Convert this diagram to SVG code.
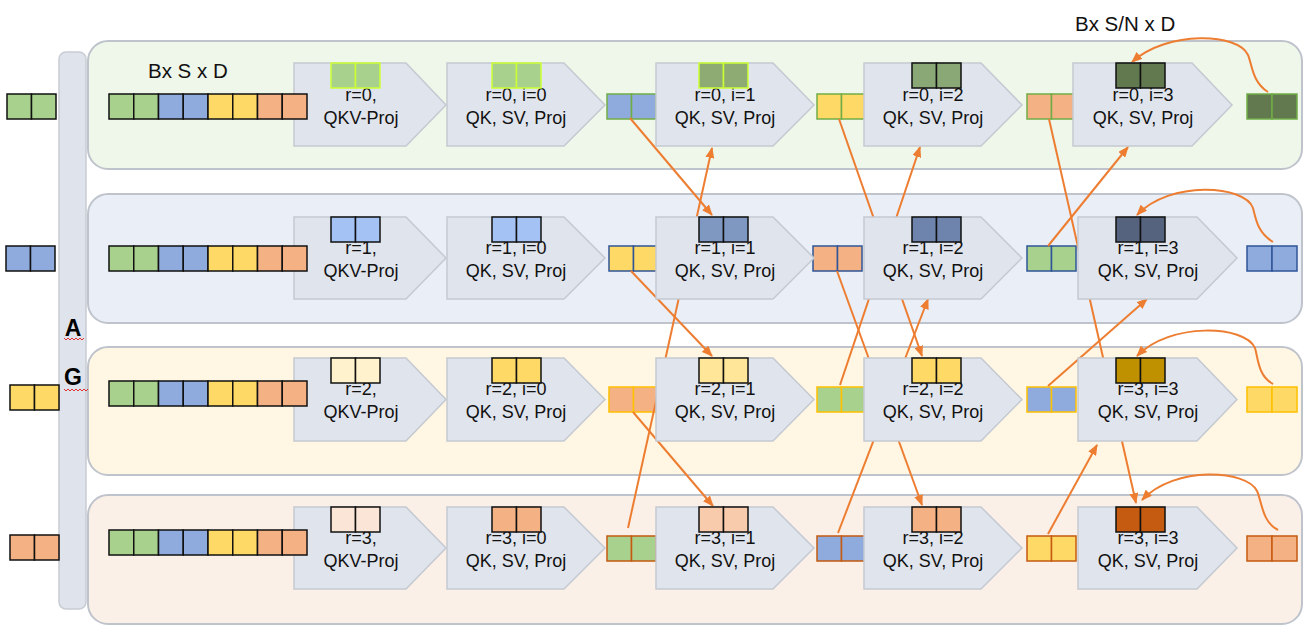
<svg xmlns="http://www.w3.org/2000/svg" width="1314" height="634" viewBox="0 0 1314 634">
<defs>
<style>
.lane{stroke:#bfc4cc;stroke-width:2}
.chev{fill:#e0e4ec;stroke:#c5c9d1;stroke-width:1.5}
.lbl{font-family:"Liberation Sans",Arial,sans-serif;font-size:18px;fill:#111;text-anchor:middle}
.hdr{font-family:"Liberation Sans",Arial,sans-serif;font-size:20.5px;fill:#111}
.ag{font-family:"Liberation Sans",Arial,sans-serif;font-size:23px;font-weight:bold;fill:#000;text-anchor:middle}
.k{stroke:#111;stroke-width:1.5}
.lime{stroke:#ccff33;stroke-width:1.5}
.sg{stroke:#70ad47;stroke-width:1.5}
.sb{stroke:#2f5597;stroke-width:1.5}
.sy{stroke:#ffc000;stroke-width:1.5}
.so{stroke:#c55a11;stroke-width:1.5}
.g{fill:#a9d18e}.b{fill:#8faadc}.y{fill:#ffd966}.o{fill:#f4b183}
.conn{stroke:#ed7d31;stroke-width:2;fill:none;marker-end:url(#ah)}
.wave{stroke:#e03030;stroke-width:1;fill:none}
</style>
<marker id="ah" markerUnits="userSpaceOnUse" markerWidth="11" markerHeight="9" refX="10" refY="4.5" orient="auto">
<path d="M0,0 L11,4.5 L0,9 z" fill="#ed7d31"/>
</marker>
</defs>
<rect width="1314" height="634" fill="#ffffff"/>

<g id="lane0"><rect class="lane" x="88" y="41" width="1214" height="128" rx="20" fill="#eff6ea"/></g>
<g id="lane1"><rect class="lane" x="88" y="194" width="1214" height="129" rx="20" fill="#eaeff7"/></g>
<g id="lane2"><rect class="lane" x="88" y="347" width="1214" height="128" rx="20" fill="#fff7e3"/></g>
<g id="lane3"><rect class="lane" x="88" y="495" width="1214" height="129" rx="20" fill="#fbf0e8"/></g>

<g id="agbar">
<rect x="59" y="52" width="27" height="557" rx="7" fill="#dfe3eb" stroke="#c8ccd4" stroke-width="1.5"/>
<text class="ag" x="73" y="336">A</text>
<text class="ag" x="73" y="385">G</text>
<path class="wave" d="M64,338 l2,2 l2,-2 l2,2 l2,-2 l2,2 l2,-2 l2,2 l2,-2 l2,2 l2,-2"/>
<path class="wave" d="M64,389 l2,2 l2,-2 l2,2 l2,-2 l2,2 l2,-2 l2,2 l2,-2 l2,2 l2,-2 l2,2 l2,-2"/>
</g>

<g id="in0" class="k"><rect class="g" x="7" y="94" width="24.5" height="25"/><rect class="g" x="31.5" y="94" width="24.5" height="25"/></g>
<g id="in1" class="k"><rect class="b" x="6" y="246" width="24.5" height="25"/><rect class="b" x="30.5" y="246" width="24.5" height="25"/></g>
<g id="in2" class="k"><rect class="y" x="10" y="385" width="24.5" height="25"/><rect class="y" x="34.5" y="385" width="24.5" height="25"/></g>
<g id="in3" class="k"><rect class="o" x="10" y="535" width="24.5" height="25"/><rect class="o" x="34.5" y="535" width="24.5" height="25"/></g>

<g id="hdr0"><text class="hdr" x="148" y="78">Bx S x D</text></g>
<g id="hdr1"><text class="hdr" x="1075" y="31">Bx S/N x D</text></g>

<!-- intermediate buffers -->
<g id="buf0" class="sg">
<rect class="b" x="607" y="94" width="24.5" height="25"/><rect class="b" x="631.5" y="94" width="24.5" height="25"/>
<rect class="y" x="817" y="94" width="24.5" height="25"/><rect class="y" x="841.5" y="94" width="24.5" height="25"/>
<rect class="o" x="1027" y="94" width="24.5" height="25"/><rect class="o" x="1051.5" y="94" width="24.5" height="25"/>
</g>
<g id="buf1" class="sb">
<rect class="y" x="609" y="246" width="24.5" height="25"/><rect class="y" x="633.5" y="246" width="24.5" height="25"/>
<rect class="o" x="813" y="246" width="24.5" height="25"/><rect class="o" x="837.5" y="246" width="24.5" height="25"/>
<rect class="g" x="1027" y="246" width="24.5" height="25"/><rect class="g" x="1051.5" y="246" width="24.5" height="25"/>
</g>
<g id="buf2" class="sy">
<rect class="o" x="609" y="387" width="24.5" height="25"/><rect class="o" x="633.5" y="387" width="24.5" height="25"/>
<rect class="g" x="817" y="387" width="24.5" height="25"/><rect class="g" x="841.5" y="387" width="24.5" height="25"/>
<rect class="b" x="1027" y="387" width="24.5" height="25"/><rect class="b" x="1051.5" y="387" width="24.5" height="25"/>
</g>
<g id="buf3" class="so">
<rect class="g" x="607" y="536" width="24.5" height="25"/><rect class="g" x="631.5" y="536" width="24.5" height="25"/>
<rect class="b" x="817" y="536" width="24.5" height="25"/><rect class="b" x="841.5" y="536" width="24.5" height="25"/>
<rect class="y" x="1027" y="536" width="24.5" height="25"/><rect class="y" x="1051.5" y="536" width="24.5" height="25"/>
</g>

<g id="connectors">
<line class="conn" x1="630" y1="118" x2="712" y2="215"/>
<line class="conn" x1="631" y1="271" x2="712" y2="356"/>
<line class="conn" x1="633" y1="412" x2="713" y2="506"/>
<line class="conn" x1="628" y1="528" x2="712" y2="148"/>
<line class="conn" x1="839" y1="119" x2="922" y2="356"/>
<line class="conn" x1="837" y1="271" x2="922" y2="505"/>
<line class="conn" x1="840" y1="385" x2="920" y2="147"/>
<line class="conn" x1="838" y1="533" x2="928" y2="299"/>
<line class="conn" x1="1049" y1="119" x2="1136" y2="503"/>
<line class="conn" x1="1048" y1="246" x2="1128" y2="147"/>
<line class="conn" x1="1048" y1="386" x2="1147" y2="299"/>
<line class="conn" x1="1048" y1="534" x2="1097" y2="445"/>
<path class="conn" d="M1268,92 C1252,82 1252,64 1248,55 C1238,33 1168,30 1132,62"/>
<path class="conn" d="M1273,242 C1258,233 1256,220 1253,208 C1245,185 1170,180 1137,215"/>
<path class="conn" d="M1273,384 C1258,376 1258,358 1255,348 C1245,325 1170,322 1137,356"/>
<path class="conn" d="M1278,530 C1262,522 1262,502 1257,491 C1247,470 1175,465 1142,500"/>
</g>

<!-- row 0 -->
<g id="r0c0"><polygon class="chev" points="294,63 406,63 446,105 406,146 294,146"/><text class="lbl" x="361" y="101">r=0,</text><text class="lbl" x="361" y="124">QKV-Proj</text><g class="lime"><rect class="g" x="331" y="63" width="24.5" height="25"/><rect class="g" x="355.5" y="63" width="24.5" height="25"/></g></g>
<g id="r0c1"><polygon class="chev" points="447,63 564,63 605,105 564,146 447,146"/><text class="lbl" x="516" y="101">r=0, i=0</text><text class="lbl" x="516" y="124">QK, SV, Proj</text><g class="lime"><rect class="g" x="492" y="63" width="24.5" height="25"/><rect class="g" x="516.5" y="63" width="24.5" height="25"/></g></g>
<g id="r0c2"><polygon class="chev" points="656,63 773,63 814,105 773,146 656,146"/><text class="lbl" x="725" y="101">r=0, i=1</text><text class="lbl" x="725" y="124">QK, SV, Proj</text><g class="lime"><rect fill="#8eab74" x="699" y="63" width="24.5" height="25"/><rect fill="#8eab74" x="723.5" y="63" width="24.5" height="25"/></g></g>
<g id="r0c3"><polygon class="chev" points="864,63 981,63 1022,105 981,146 864,146"/><text class="lbl" x="933" y="101">r=0, i=2</text><text class="lbl" x="933" y="124">QK, SV, Proj</text><g class="k"><rect fill="#8aa876" x="912" y="63" width="24.5" height="25"/><rect fill="#8aa876" x="936.5" y="63" width="24.5" height="25"/></g></g>
<g id="r0c4"><polygon class="chev" points="1073,63 1192,63 1232,105 1192,146 1073,146"/><text class="lbl" x="1143" y="101">r=0, i=3</text><text class="lbl" x="1143" y="124">QK, SV, Proj</text><g class="k"><rect fill="#62784f" x="1116" y="63" width="24.5" height="25"/><rect fill="#62784f" x="1140.5" y="63" width="24.5" height="25"/></g></g>

<!-- row 1 -->
<g id="r1c0"><polygon class="chev" points="294,217 406,217 446,258 406,299 294,299"/><text class="lbl" x="361" y="254">r=1,</text><text class="lbl" x="361" y="277">QKV-Proj</text><g class="k"><rect fill="#a4c2f4" x="331" y="217" width="24.5" height="25"/><rect fill="#a4c2f4" x="355.5" y="217" width="24.5" height="25"/></g></g>
<g id="r1c1"><polygon class="chev" points="447,217 564,217 605,258 564,299 447,299"/><text class="lbl" x="516" y="254">r=1, i=0</text><text class="lbl" x="516" y="277">QK, SV, Proj</text><g class="k"><rect fill="#a4c2f4" x="492" y="217" width="24.5" height="25"/><rect fill="#a4c2f4" x="516.5" y="217" width="24.5" height="25"/></g></g>
<g id="r1c2"><polygon class="chev" points="656,217 773,217 814,258 773,299 656,299"/><text class="lbl" x="725" y="254">r=1, i=1</text><text class="lbl" x="725" y="277">QK, SV, Proj</text><g class="k"><rect fill="#7f98c2" x="699" y="217" width="24.5" height="25"/><rect fill="#7f98c2" x="723.5" y="217" width="24.5" height="25"/></g></g>
<g id="r1c3"><polygon class="chev" points="864,217 981,217 1022,258 981,299 864,299"/><text class="lbl" x="933" y="254">r=1, i=2</text><text class="lbl" x="933" y="277">QK, SV, Proj</text><g class="k"><rect fill="#6e84ad" x="912" y="217" width="24.5" height="25"/><rect fill="#6e84ad" x="936.5" y="217" width="24.5" height="25"/></g></g>
<g id="r1c4"><polygon class="chev" points="1078,217 1197,217 1237,258 1197,299 1078,299"/><text class="lbl" x="1148" y="254">r=1, i=3</text><text class="lbl" x="1148" y="277">QK, SV, Proj</text><g class="k"><rect fill="#55637f" x="1116" y="217" width="24.5" height="25"/><rect fill="#55637f" x="1140.5" y="217" width="24.5" height="25"/></g></g>

<!-- row 2 -->
<g id="r2c0"><polygon class="chev" points="294,358 406,358 446,399.5 406,441 294,441"/><text class="lbl" x="361" y="395">r=2,</text><text class="lbl" x="361" y="418">QKV-Proj</text><g class="k"><rect fill="#fff2cc" x="331" y="358" width="24.5" height="25"/><rect fill="#fff2cc" x="355.5" y="358" width="24.5" height="25"/></g></g>
<g id="r2c1"><polygon class="chev" points="447,358 564,358 605,399.5 564,441 447,441"/><text class="lbl" x="516" y="395">r=2, i=0</text><text class="lbl" x="516" y="418">QK, SV, Proj</text><g class="k"><rect class="y" x="492" y="358" width="24.5" height="25"/><rect class="y" x="516.5" y="358" width="24.5" height="25"/></g></g>
<g id="r2c2"><polygon class="chev" points="656,358 773,358 814,399.5 773,441 656,441"/><text class="lbl" x="725" y="395">r=2, i=1</text><text class="lbl" x="725" y="418">QK, SV, Proj</text><g class="k"><rect fill="#ffe699" x="699" y="358" width="24.5" height="25"/><rect fill="#ffe699" x="723.5" y="358" width="24.5" height="25"/></g></g>
<g id="r2c3"><polygon class="chev" points="864,358 981,358 1022,399.5 981,441 864,441"/><text class="lbl" x="933" y="395">r=2, i=2</text><text class="lbl" x="933" y="418">QK, SV, Proj</text><g class="k"><rect class="y" x="912" y="358" width="24.5" height="25"/><rect class="y" x="936.5" y="358" width="24.5" height="25"/></g></g>
<g id="r2c4"><polygon class="chev" points="1078,358 1197,358 1237,399.5 1197,441 1078,441"/><text class="lbl" x="1148" y="395">r=3, i=3</text><text class="lbl" x="1148" y="418">QK, SV, Proj</text><g class="k"><rect fill="#bf9000" x="1116" y="358" width="24.5" height="25"/><rect fill="#bf9000" x="1140.5" y="358" width="24.5" height="25"/></g></g>

<!-- row 3 -->
<g id="r3c0"><polygon class="chev" points="294,507 406,507 446,548 406,589 294,589"/><text class="lbl" x="361" y="544">r=3,</text><text class="lbl" x="361" y="567">QKV-Proj</text><g class="k"><rect fill="#fbe5d6" x="331" y="507" width="24.5" height="25"/><rect fill="#fbe5d6" x="355.5" y="507" width="24.5" height="25"/></g></g>
<g id="r3c1"><polygon class="chev" points="447,507 564,507 605,548 564,589 447,589"/><text class="lbl" x="516" y="544">r=3, i=0</text><text class="lbl" x="516" y="567">QK, SV, Proj</text><g class="k"><rect class="o" x="492" y="507" width="24.5" height="25"/><rect class="o" x="516.5" y="507" width="24.5" height="25"/></g></g>
<g id="r3c2"><polygon class="chev" points="656,507 773,507 814,548 773,589 656,589"/><text class="lbl" x="725" y="544">r=3, i=1</text><text class="lbl" x="725" y="567">QK, SV, Proj</text><g class="k"><rect fill="#f8cbad" x="699" y="507" width="24.5" height="25"/><rect fill="#f8cbad" x="723.5" y="507" width="24.5" height="25"/></g></g>
<g id="r3c3"><polygon class="chev" points="864,507 981,507 1022,548 981,589 864,589"/><text class="lbl" x="933" y="544">r=3, i=2</text><text class="lbl" x="933" y="567">QK, SV, Proj</text><g class="k"><rect class="o" x="912" y="507" width="24.5" height="25"/><rect class="o" x="936.5" y="507" width="24.5" height="25"/></g></g>
<g id="r3c4"><polygon class="chev" points="1078,507 1197,507 1237,548 1197,589 1078,589"/><text class="lbl" x="1148" y="544">r=3, i=3</text><text class="lbl" x="1148" y="567">QK, SV, Proj</text><g class="k"><rect fill="#c55a11" x="1116" y="507" width="24.5" height="25"/><rect fill="#c55a11" x="1140.5" y="507" width="24.5" height="25"/></g></g>

<!-- input sequences -->
<g id="seq0" class="k"><rect class="g" x="109" y="94" width="24.75" height="25"/><rect class="g" x="133.75" y="94" width="24.75" height="25"/><rect class="b" x="158.5" y="94" width="24.75" height="25"/><rect class="b" x="183.25" y="94" width="24.75" height="25"/><rect class="y" x="208" y="94" width="24.75" height="25"/><rect class="y" x="232.75" y="94" width="24.75" height="25"/><rect class="o" x="257.5" y="94" width="24.75" height="25"/><rect class="o" x="282.25" y="94" width="24.75" height="25"/></g>
<g id="seq1" class="k"><rect class="g" x="109" y="246" width="24.75" height="25"/><rect class="g" x="133.75" y="246" width="24.75" height="25"/><rect class="b" x="158.5" y="246" width="24.75" height="25"/><rect class="b" x="183.25" y="246" width="24.75" height="25"/><rect class="y" x="208" y="246" width="24.75" height="25"/><rect class="y" x="232.75" y="246" width="24.75" height="25"/><rect class="o" x="257.5" y="246" width="24.75" height="25"/><rect class="o" x="282.25" y="246" width="24.75" height="25"/></g>
<g id="seq2" class="k"><rect class="g" x="109" y="381" width="24.75" height="25"/><rect class="g" x="133.75" y="381" width="24.75" height="25"/><rect class="b" x="158.5" y="381" width="24.75" height="25"/><rect class="b" x="183.25" y="381" width="24.75" height="25"/><rect class="y" x="208" y="381" width="24.75" height="25"/><rect class="y" x="232.75" y="381" width="24.75" height="25"/><rect class="o" x="257.5" y="381" width="24.75" height="25"/><rect class="o" x="282.25" y="381" width="24.75" height="25"/></g>
<g id="seq3" class="k"><rect class="g" x="109" y="530" width="24.75" height="25"/><rect class="g" x="133.75" y="530" width="24.75" height="25"/><rect class="b" x="158.5" y="530" width="24.75" height="25"/><rect class="b" x="183.25" y="530" width="24.75" height="25"/><rect class="y" x="208" y="530" width="24.75" height="25"/><rect class="y" x="232.75" y="530" width="24.75" height="25"/><rect class="o" x="257.5" y="530" width="24.75" height="25"/><rect class="o" x="282.25" y="530" width="24.75" height="25"/></g>

<!-- outputs -->
<g id="out0" class="sg"><rect fill="#62784f" x="1247" y="94" width="25" height="25"/><rect fill="#62784f" x="1272" y="94" width="25" height="25"/></g>
<g id="out1" class="sb"><rect class="b" x="1247" y="246" width="25" height="25"/><rect class="b" x="1272" y="246" width="25" height="25"/></g>
<g id="out2" class="sy"><rect class="y" x="1247" y="387" width="25" height="25"/><rect class="y" x="1272" y="387" width="25" height="25"/></g>
<g id="out3" class="so"><rect class="o" x="1247" y="536" width="25" height="25"/><rect class="o" x="1272" y="536" width="25" height="25"/></g>
</svg>
